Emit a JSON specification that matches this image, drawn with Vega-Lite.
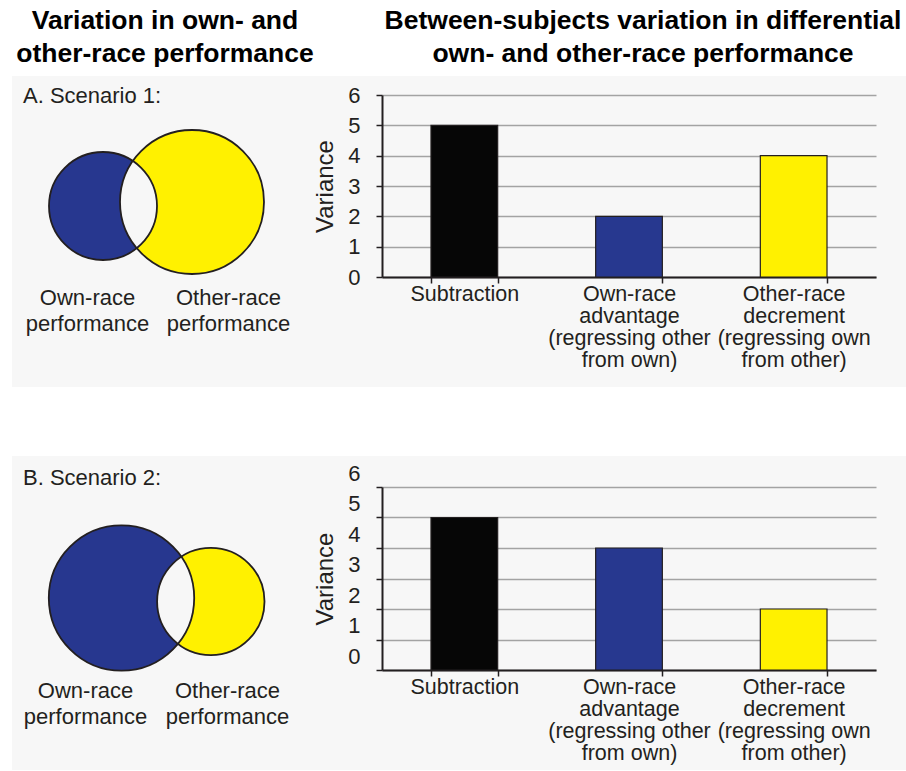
{
  "$schema": "https://vega.github.io/schema/vega-lite/v6.json",
  "background": "#f7f7f7",
  "padding": 0,
  "columns": 4,
  "spacing": 0,
  "bounds": "flush",
  "align": "each",
  "config": {"view": {"stroke": null}, "font": "Liberation Sans"},
  "concat": [
    {"width": 12, "height": 76, "data": {"values": []}, "mark": "point", "view": {"fill": "#ffffff"}},
    {"width": 370, "height": 76, "data": {"values": []}, "mark": "point", "view": {"fill": "#ffffff"}},
    {"width": 494, "height": 76, "data": {"values": []}, "mark": "point", "view": {"fill": "#ffffff"}},
    {"width": 30, "height": 76, "data": {"values": []}, "mark": "point", "view": {"fill": "#ffffff"}},

    {"width": 12, "height": 19, "data": {"values": []}, "mark": "point", "view": {"fill": "#ffffff"}},
    {"width": 370, "height": 19,
     "data": {"values": [{"t": "Variation in own- and\nother-race performance"}]},
     "mark": {"type": "text", "fontSize": 26.5, "fontWeight": "bold", "lineBreak": "\n", "lineHeight": 33, "align": "center", "baseline": "middle", "dx": -32, "dy": -65, "color": "#000000"},
     "encoding": {"text": {"field": "t"}}},
    {"width": 494, "height": 19,
     "data": {"values": [{"t": "Between-subjects variation in differential\nown- and other-race performance"}]},
     "mark": {"type": "text", "fontSize": 26.5, "fontWeight": "bold", "lineBreak": "\n", "lineHeight": 33, "align": "center", "baseline": "middle", "dx": 14, "dy": -65, "color": "#000000"},
     "encoding": {"text": {"field": "t"}}},
    {"width": 30, "height": 19, "data": {"values": []}, "mark": "point"},

    {"width": 12, "height": 182, "data": {"values": []}, "mark": "point", "view": {"fill": "#ffffff"}},
    {"width": 370, "height": 182,
     "data": {"values": [
       {"set": "Own-race performance", "cx": 91, "cy": 111, "r": 54},
       {"set": "Other-race performance", "cx": 180, "cy": 107, "r": 72}
     ]},
     "encoding": {
       "x": {"field": "cx", "type": "quantitative", "scale": {"domain": [0, 370], "nice": false, "zero": false}, "axis": null},
       "y": {"field": "cy", "type": "quantitative", "scale": {"domain": [0, 182], "reverse": true, "nice": false, "zero": false}, "axis": null}
     },
     "layer": [
       {"mark": {"type": "point", "shape": "circle", "filled": true, "opacity": 1, "strokeWidth": 0},
        "encoding": {
          "size": {"field": "r", "type": "quantitative", "scale": {"type": "pow", "exponent": 2, "domain": [0, 100], "range": [0, 40000], "nice": false}, "legend": null},
          "fill": {"field": "set", "type": "nominal", "scale": {"domain": ["Own-race performance", "Other-race performance"], "range": ["#27378f", "#fff100"]}, "legend": null}
        }},
       {"transform": [{"filter": "datum.set === 'Own-race performance'"}],
        "mark": {"type": "point", "shape": "M29.8,-45A54,54,0,0,1,33.8,42.2A72,72,0,0,1,29.8,-45Z", "filled": true, "opacity": 1, "fill": "#f7f7f7", "strokeWidth": 0, "size": 4}},
       {"mark": {"type": "point", "shape": "circle", "filled": false, "opacity": 1, "stroke": "#231f20", "strokeWidth": 1.8},
        "encoding": {
          "size": {"field": "r", "type": "quantitative", "scale": {"type": "pow", "exponent": 2, "domain": [0, 100], "range": [0, 40000], "nice": false}, "legend": null}
        }},
       {"data": {"values": [{"label": "A. Scenario 1:", "lx": 11, "ly": 1}]},
        "mark": {"type": "text", "align": "left", "baseline": "middle", "fontSize": 22, "color": "#231f20"},
        "encoding": {"x": {"field": "lx", "type": "quantitative"}, "y": {"field": "ly", "type": "quantitative"}, "text": {"field": "label"}}},
       {"data": {"values": [
          {"label": "Own-race\nperformance", "lx": 75.5, "ly": 203},
          {"label": "Other-race\nperformance", "lx": 216.5, "ly": 203}
        ]},
        "mark": {"type": "text", "align": "center", "baseline": "middle", "fontSize": 22, "lineBreak": "\n", "lineHeight": 26, "color": "#231f20"},
        "encoding": {"x": {"field": "lx", "type": "quantitative"}, "y": {"field": "ly", "type": "quantitative"}, "text": {"field": "label"}}}
     ]},
    {"width": 494, "height": 182,
     "data": {"values": [
       {"method": "Subtraction", "variance": 5},
       {"method": "Own-race\nadvantage\n(regressing other\nfrom own)", "variance": 2},
       {"method": "Other-race\ndecrement\n(regressing own\nfrom other)", "variance": 4}
     ]},
     "mark": {"type": "bar", "stroke": "#231f20", "strokeWidth": 1.2},
     "encoding": {
       "x": {"field": "method", "type": "nominal", "sort": null,
             "scale": {"paddingInner": 0.595, "paddingOuter": 0.2975},
             "axis": {"title": null, "labelAngle": 0, "labelExpr": "isValid(datum.value) ? split(datum.value, '\\n') : ''", "labelFontSize": 21.5, "labelLineHeight": 22, "labelColor": "#231f20", "labelPadding": 0, "labelLimit": 0, "labelOverlap": false, "tickBand": "extent", "tickSize": 6, "tickColor": "#231f20", "tickWidth": 1.5, "domainColor": "#231f20", "domainWidth": 2, "grid": false}},
       "y": {"field": "variance", "type": "quantitative", "scale": {"domain": [0, 6], "nice": false},
             "axis": {"title": "Variance", "values": [0, 1, 2, 3, 4, 5, 6], "grid": true, "gridColor": "#a3a3a3", "gridWidth": 1.5, "labelFontSize": 22, "labelColor": "#231f20", "labelPadding": 16, "tickSize": 6, "tickColor": "#231f20", "tickWidth": 1.5, "domainColor": "#231f20", "domainWidth": 2, "titleFontSize": 24, "titleFontWeight": "normal", "titleColor": "#231f20", "titlePadding": 10}},
       "color": {"field": "method", "type": "nominal", "sort": null, "scale": {"range": ["#060606", "#27388f", "#fff100"]}, "legend": null}
     }},
    {"width": 30, "height": 182, "data": {"values": []}, "mark": "point"},

    {"width": 12, "height": 110, "data": {"values": []}, "mark": "point", "view": {"fill": "#ffffff"}},
    {"width": 370, "height": 110, "data": {"values": []}, "mark": "point"},
    {"width": 494, "height": 110, "data": {"values": []}, "mark": "point"},
    {"width": 30, "height": 110, "data": {"values": []}, "mark": "point"},

    {"width": 12, "height": 69, "data": {"values": []}, "mark": "point", "view": {"fill": "#ffffff"}},
    {"width": 370, "height": 69, "data": {"values": []}, "mark": "point", "view": {"fill": "#ffffff"}},
    {"width": 494, "height": 69, "data": {"values": []}, "mark": "point", "view": {"fill": "#ffffff"}},
    {"width": 30, "height": 69, "data": {"values": []}, "mark": "point", "view": {"fill": "#ffffff"}},

    {"width": 12, "height": 31, "data": {"values": []}, "mark": "point", "view": {"fill": "#ffffff"}},
    {"width": 370, "height": 31, "data": {"values": []}, "mark": "point"},
    {"width": 494, "height": 31, "data": {"values": []}, "mark": "point"},
    {"width": 30, "height": 31, "data": {"values": []}, "mark": "point"},

    {"width": 12, "height": 183, "data": {"values": []}, "mark": "point", "view": {"fill": "#ffffff"}},
    {"width": 370, "height": 183,
     "data": {"values": [
       {"set": "Own-race performance", "cx": 109.5, "cy": 111, "r": 72.7},
       {"set": "Other-race performance", "cx": 198.8, "cy": 114.5, "r": 53.7}
     ]},
     "encoding": {
       "x": {"field": "cx", "type": "quantitative", "scale": {"domain": [0, 370], "nice": false, "zero": false}, "axis": null},
       "y": {"field": "cy", "type": "quantitative", "scale": {"domain": [0, 183], "reverse": true, "nice": false, "zero": false}, "axis": null}
     },
     "layer": [
       {"mark": {"type": "point", "shape": "circle", "filled": true, "opacity": 1, "strokeWidth": 0},
        "encoding": {
          "size": {"field": "r", "type": "quantitative", "scale": {"type": "pow", "exponent": 2, "domain": [0, 100], "range": [0, 40000], "nice": false}, "legend": null},
          "fill": {"field": "set", "type": "nominal", "scale": {"domain": ["Own-race performance", "Other-race performance"], "range": ["#27378f", "#fff100"]}, "legend": null}
        }},
       {"transform": [{"filter": "datum.set === 'Own-race performance'"}],
        "mark": {"type": "point", "shape": "M59.8,-41.4A72.7,72.7,0,0,1,56.4,45.9A53.7,53.7,0,0,1,59.8,-41.4Z", "filled": true, "opacity": 1, "fill": "#f7f7f7", "strokeWidth": 0, "size": 4}},
       {"mark": {"type": "point", "shape": "circle", "filled": false, "opacity": 1, "stroke": "#231f20", "strokeWidth": 1.8},
        "encoding": {
          "size": {"field": "r", "type": "quantitative", "scale": {"type": "pow", "exponent": 2, "domain": [0, 100], "range": [0, 40000], "nice": false}, "legend": null}
        }},
       {"data": {"values": [{"label": "B. Scenario 2:", "lx": 11, "ly": -9}]},
        "mark": {"type": "text", "align": "left", "baseline": "middle", "fontSize": 22, "color": "#231f20"},
        "encoding": {"x": {"field": "lx", "type": "quantitative"}, "y": {"field": "ly", "type": "quantitative"}, "text": {"field": "label"}}},
       {"data": {"values": [
          {"label": "Own-race\nperformance", "lx": 73.5, "ly": 204},
          {"label": "Other-race\nperformance", "lx": 215.5, "ly": 204}
        ]},
        "mark": {"type": "text", "align": "center", "baseline": "middle", "fontSize": 22, "lineBreak": "\n", "lineHeight": 26, "color": "#231f20"},
        "encoding": {"x": {"field": "lx", "type": "quantitative"}, "y": {"field": "ly", "type": "quantitative"}, "text": {"field": "label"}}}
     ]},
    {"width": 494, "height": 183,
     "data": {"values": [
       {"method": "Subtraction", "variance": 5},
       {"method": "Own-race\nadvantage\n(regressing other\nfrom own)", "variance": 4},
       {"method": "Other-race\ndecrement\n(regressing own\nfrom other)", "variance": 2}
     ]},
     "mark": {"type": "bar", "stroke": "#231f20", "strokeWidth": 1.2},
     "encoding": {
       "x": {"field": "method", "type": "nominal", "sort": null,
             "scale": {"paddingInner": 0.595, "paddingOuter": 0.2975},
             "axis": {"title": null, "labelAngle": 0, "labelExpr": "isValid(datum.value) ? split(datum.value, '\\n') : ''", "labelFontSize": 21.5, "labelLineHeight": 22, "labelColor": "#231f20", "labelPadding": 0, "labelLimit": 0, "labelOverlap": false, "tickBand": "extent", "tickSize": 6, "tickColor": "#231f20", "tickWidth": 1.5, "domainColor": "#231f20", "domainWidth": 2, "grid": false}},
       "y": {"field": "variance", "type": "quantitative", "scale": {"domain": [0, 6], "nice": false},
             "axis": {"title": "Variance", "values": [0, 1, 2, 3, 4, 5, 6], "grid": true, "gridColor": "#a3a3a3", "gridWidth": 1.5, "labelFontSize": 22, "labelColor": "#231f20", "labelPadding": 16, "labelOffset": -14, "tickSize": 6, "tickColor": "#231f20", "tickWidth": 1.5, "domainColor": "#231f20", "domainWidth": 2, "titleFontSize": 24, "titleFontWeight": "normal", "titleColor": "#231f20", "titlePadding": 10}},
       "color": {"field": "method", "type": "nominal", "sort": null, "scale": {"range": ["#060606", "#27388f", "#fff100"]}, "legend": null}
     }},
    {"width": 30, "height": 183, "data": {"values": []}, "mark": "point"},

    {"width": 12, "height": 100, "data": {"values": []}, "mark": "point", "view": {"fill": "#ffffff"}},
    {"width": 370, "height": 100, "data": {"values": []}, "mark": "point"},
    {"width": 494, "height": 100, "data": {"values": []}, "mark": "point"},
    {"width": 30, "height": 100, "data": {"values": []}, "mark": "point"}
  ]
}
